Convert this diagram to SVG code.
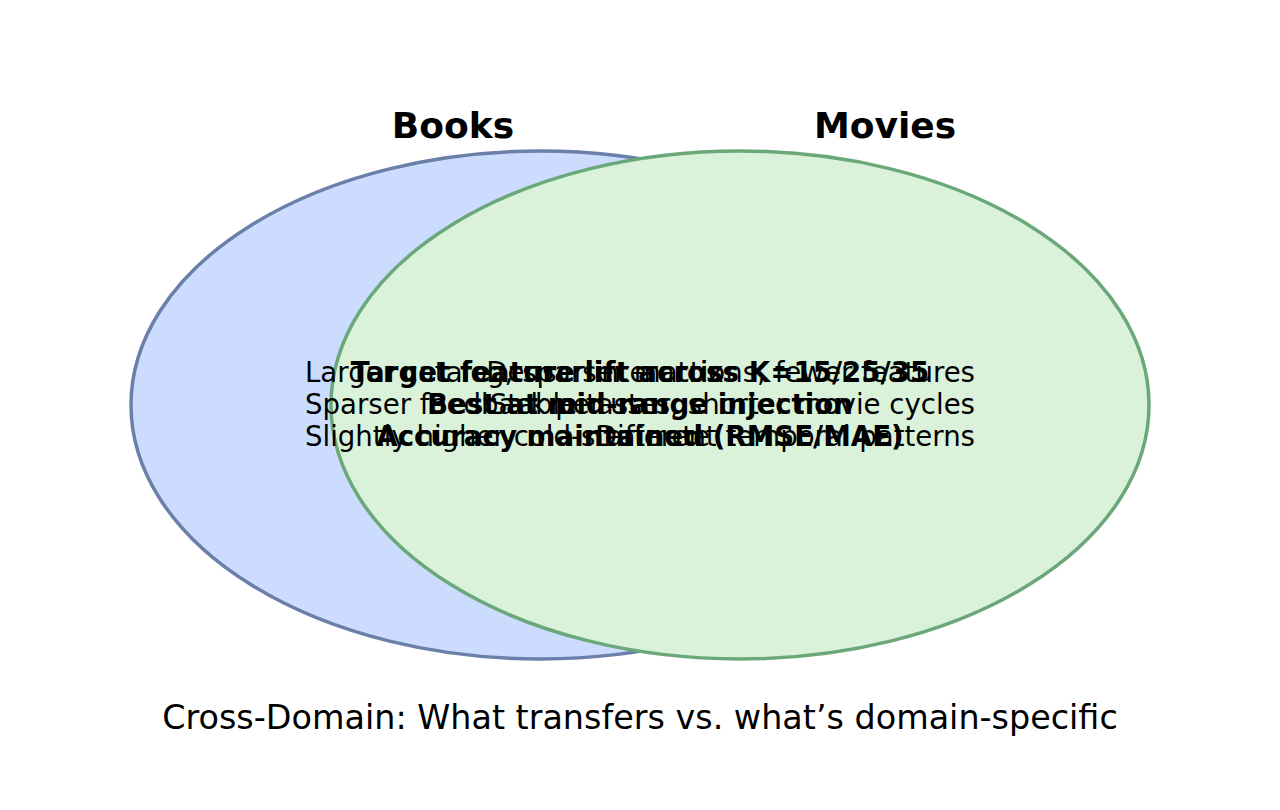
<svg xmlns="http://www.w3.org/2000/svg" width="1280" height="810" viewBox="0 0 1280 810">
<style>
.t{font-family:"DejaVu Sans","Liberation Sans",sans-serif;fill:#000}
.h{font-size:36px;font-weight:bold;text-anchor:middle}
.b{font-size:27.6px}
.bb{font-size:27.7px;font-weight:bold;text-anchor:middle}
.c{font-size:33.4px;text-anchor:middle}
</style>
<rect width="1280" height="810" fill="#ffffff"/>
<g id="books">
<ellipse cx="540" cy="405" rx="409" ry="254" fill="#ccdcff" stroke="#6a7fa9" stroke-width="3.5"/>
<text class="t h" x="453" y="138">Books</text>
</g>
<g id="movies">
<ellipse cx="740" cy="405" rx="409" ry="254" fill="#daf2da" stroke="#6aa87a" stroke-width="3.5"/>
<text class="t h" x="885" y="138">Movies</text>
</g>
<g id="books-only">
<text class="t b" x="305" y="382">Larger catalog, sparser matrix</text>
<text class="t b" x="305" y="414">Sparser feedback per user</text>
<text class="t b" x="305" y="446">Slightly higher cold-start rate</text>
</g>
<g id="movies-only">
<text class="t b" x="975" y="382" text-anchor="end">Denser interactions, fewer features</text>
<text class="t b" x="975" y="414" text-anchor="end">Stable tastes, shorter movie cycles</text>
<text class="t b" x="975" y="446" text-anchor="end">Different temporal patterns</text>
</g>
<g id="shared">
<text class="t bb" x="640" y="382">Target feature lift across K=15/25/35</text>
<text class="t bb" x="640" y="414">Best at mid-range injection</text>
<text class="t bb" x="640" y="446">Accuracy maintained (RMSE/MAE)</text>
</g>
<g id="connectors"></g>
<text class="t c" x="640" y="729">Cross-Domain: What transfers vs. what’s domain-specific</text>
</svg>
